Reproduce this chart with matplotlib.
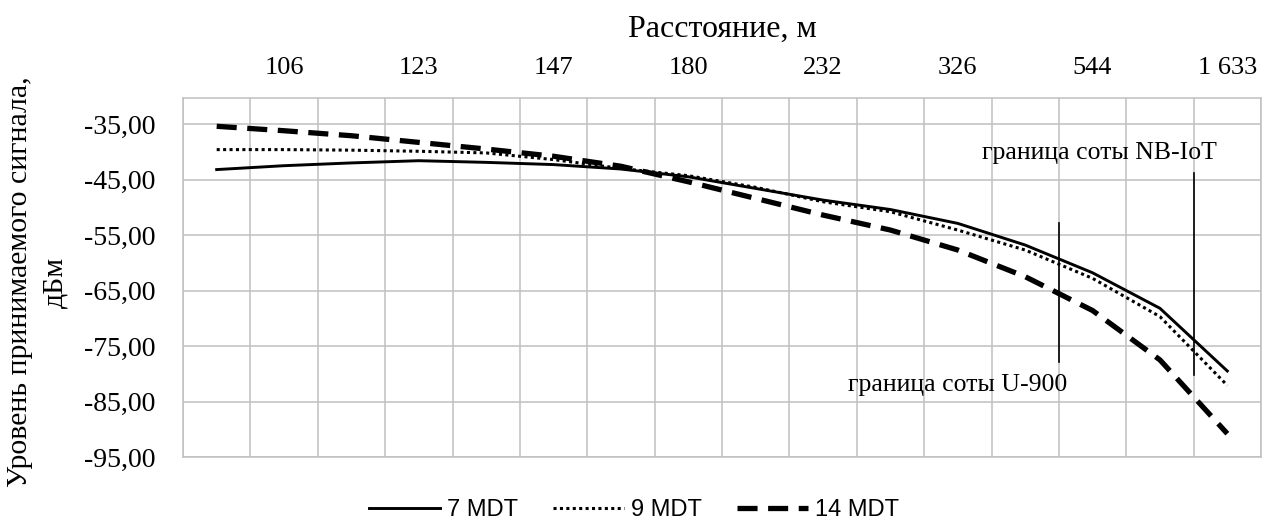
import matplotlib
matplotlib.use("Agg")
import matplotlib.pyplot as plt
import numpy as np

# distance labels (every second category is labelled on the top axis)
n_points = 16
distance_labels = ["106", "123", "147", "180", "232", "326", "544", "1 633"]

# received signal level, dBm
mdt_7 = [-43.2, -42.5, -42.0, -41.6, -41.9, -42.3, -43.1, -44.5,
         -46.6, -48.7, -50.4, -52.9, -56.8, -61.8, -68.2, -79.5]
mdt_9 = [-39.6, -39.6, -39.7, -39.9, -40.2, -41.4, -43.0, -44.3,
         -46.4, -49.0, -50.8, -54.1, -57.7, -62.8, -69.7, -82.1]
mdt_14 = [-35.4, -36.2, -37.1, -38.3, -39.5, -40.8, -42.6, -45.4,
          -48.4, -51.4, -54.1, -57.7, -62.5, -68.6, -77.5, -90.8]

y_ticks = [-35, -45, -55, -65, -75, -85, -95]

SERIF = ["Liberation Serif", "DejaVu Serif"]
SANS = ["Liberation Sans", "DejaVu Sans"]
GRID = "#c0c0c0"

fig = plt.figure(figsize=(12.68, 5.26), dpi=100)
ax = fig.add_axes([183 / 1268, 1 - 457 / 526, (1261 - 183) / 1268, (457 - 98) / 526])

x = np.arange(n_points)
ax.plot(x, mdt_7, color="black", lw=2.1, label="7 MDT", zorder=3)
ax.plot(x, mdt_9, color="black", lw=2.2, linestyle=(0, (1, 1.1)), label="9 MDT", zorder=3)
ax.plot(x, mdt_14, color="black", lw=3.8, linestyle=(0, (3.8, 2.0)), label="14 MDT", zorder=3)

ax.set_xlim(-0.5, n_points - 0.5)
ax.set_ylim(-95, -30.3)

# gridlines at category boundaries and at value ticks
for b in np.arange(-0.5, n_points, 1.0):
    ax.axvline(b, color=GRID, lw=1.1, zorder=1)
for v in y_ticks:
    ax.axhline(v, color=GRID, lw=1.1, zorder=1)

for s in ax.spines.values():
    s.set_color(GRID)
    s.set_linewidth(1.1)

ax.xaxis.tick_top()
ax.xaxis.set_label_position("top")
ax.set_xticks(x[1::2])
ax.set_xticklabels(distance_labels, family=SERIF, fontsize=19)
ax.set_yticks(y_ticks)
ax.set_yticklabels([f"{v:.2f}".replace(".", ",") for v in y_ticks], family=SERIF, fontsize=20)
ax.tick_params(axis="x", length=0, pad=14)
ax.tick_params(axis="y", length=0, pad=20)

ax.set_xlabel("Расстояние, м", family=SERIF, fontsize=23, labelpad=14)

fig.text(38 / 1268, 1 - 282 / 526, "Уровень принимаемого сигнала,\nдБм", family=SERIF,
         fontsize=21.5, rotation=90, ha="center", va="center", multialignment="center",
         linespacing=1.45)

# cell boundary markers
ax.plot([12.5, 12.5], [-52.8, -77.9], color="black", lw=1.2, zorder=4)
ax.text(11.0, -82.0, "граница соты U-900", family=SERIF, fontsize=18.5,
        ha="center", va="center")
ax.plot([14.5, 14.5], [-43.8, -80.3], color="black", lw=1.2, zorder=4)
ax.text(13.1, -40.3, "граница соты NB-IoT", family=SERIF, fontsize=18.5,
        ha="center", va="center")

leg = fig.legend(loc="center", bbox_to_anchor=(0.5, 1 - 510 / 526), ncol=3, frameon=False,
                 prop={"family": SANS, "size": 17}, handlelength=3.0, columnspacing=1.5,
                 handletextpad=0.3)

fig.savefig("out.png", dpi=100)
